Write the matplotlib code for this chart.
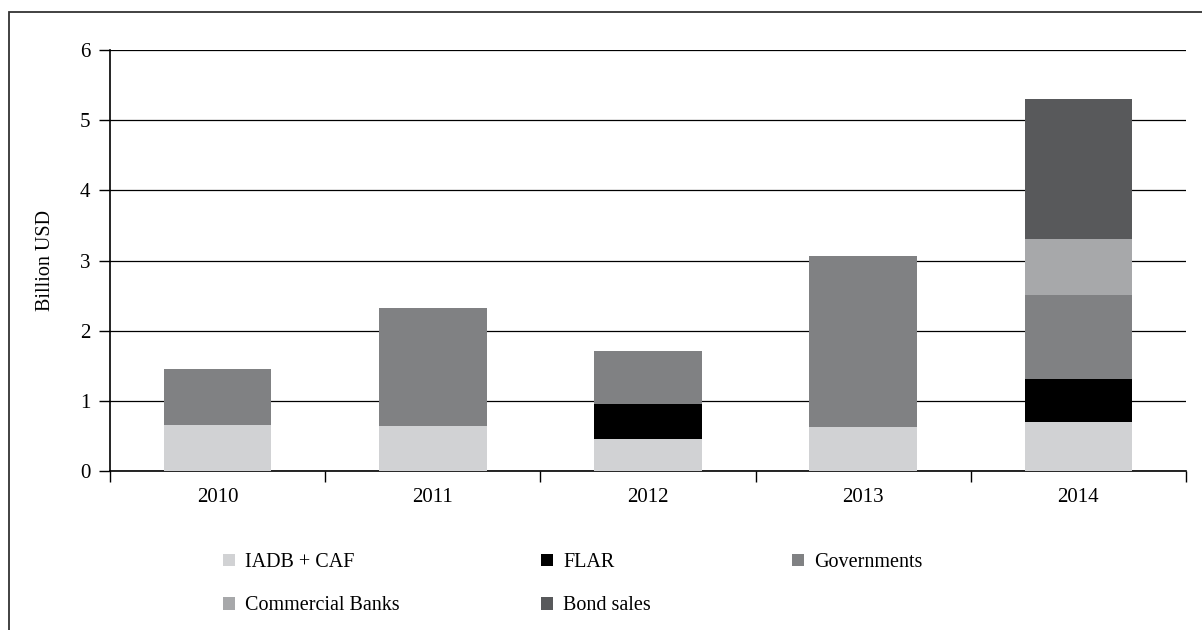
import numpy as np
import matplotlib
matplotlib.use('Agg')
import matplotlib.pyplot as plt
from matplotlib.patches import Rectangle, Patch

years = ['2010', '2011', '2012', '2013', '2014']
iadb_caf = [0.65, 0.64, 0.45, 0.63, 0.70]
flar = [0.0, 0.0, 0.51, 0.0, 0.61]
governments = [0.80, 1.69, 0.75, 2.44, 1.20]
commercial_banks = [0.0, 0.0, 0.0, 0.0, 0.79]
bond_sales = [0.0, 0.0, 0.0, 0.0, 2.00]

series = [
    ('IADB + CAF', iadb_caf, '#d1d2d4'),
    ('FLAR', flar, '#000000'),
    ('Governments', governments, '#808183'),
    ('Commercial Banks', commercial_banks, '#a7a8aa'),
    ('Bond sales', bond_sales, '#58595b'),
]

plt.rcParams['font.family'] = ['Liberation Serif', 'DejaVu Serif']

fig = plt.figure(figsize=(12.02, 6.3), dpi=100)
ax = fig.add_axes([110 / 1202, 1 - 471 / 630, 1076 / 1202, 421 / 630])

x = np.arange(len(years))
bottom = np.zeros(len(years))
handles = {}
for name, vals, col in series:
    vals = np.array(vals)
    ax.bar(x, vals, width=0.5, bottom=bottom, color=col, zorder=3)
    bottom += vals
    handles[name] = Patch(facecolor=col, edgecolor='none')

ax.set_xlim(-0.5, len(years) - 0.5)
ax.set_ylim(0, 6)
ax.set_yticks(range(0, 7))
ax.yaxis.grid(True, color='black', linewidth=0.9, zorder=0)
ax.set_axisbelow(True)

ax.set_xticks(x)
ax.set_xticklabels(years)
ax.set_xticks(np.arange(-0.5, len(years)), minor=True)
ax.tick_params(axis='x', which='major', length=0, pad=12, labelsize=15)
ax.tick_params(axis='x', which='minor', length=8, width=1, direction='out')
ax.tick_params(axis='y', length=8, width=1, direction='out', pad=6, labelsize=15)

for s in ['top', 'right']:
    ax.spines[s].set_visible(False)
ax.spines['left'].set_linewidth(1.2)
ax.spines['bottom'].set_linewidth(1.2)

ax.set_ylabel('Billion USD', fontsize=14.5, labelpad=18)

# legend: filled column-wise, so order gives rows IADB/FLAR/Gov, CB/Bond
order = ['IADB + CAF', 'Commercial Banks', 'FLAR', 'Bond sales', 'Governments']
fig.legend([handles[n] for n in order], order, ncol=3, frameon=False,
           loc='upper left', bbox_to_anchor=(205 / 1202, 1 - 535 / 630),
           fontsize=14.5, handlelength=0.6, handleheight=0.6, handletextpad=0.5,
           labelspacing=1.2, columnspacing=7.0)

# outer frame (only left/top visible in the crop)
fig.patches.append(Rectangle((9 / 1202, -0.2), 1.2, 1 - 12 / 630 + 0.2,
                             transform=fig.transFigure, fill=False,
                             edgecolor='#333333', linewidth=1.3))

fig.savefig('out.png', dpi=100)
